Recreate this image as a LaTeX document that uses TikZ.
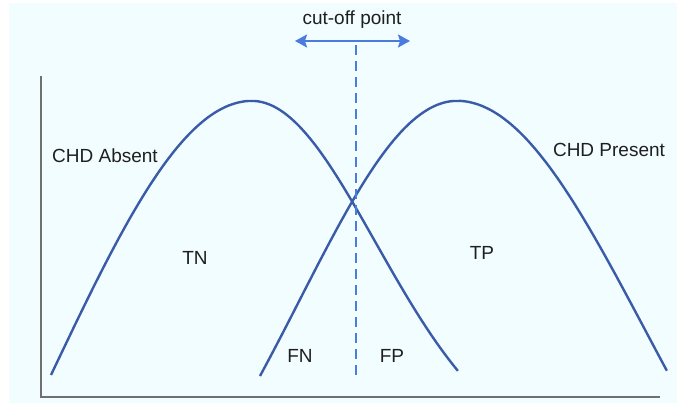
\documentclass[tikz,border=0pt]{standalone}
\usepackage{fontspec}
\setmainfont{Liberation Sans}
\usetikzlibrary{arrows.meta}

\definecolor{curveblue}{HTML}{3A5BA8}
\definecolor{cutblue}{HTML}{4A7BDD}
\definecolor{axisgray}{HTML}{707070}
\definecolor{bgcyan}{HTML}{F2FDFF}

\begin{document}
\begin{tikzpicture}[
  x=1pt, y=-1pt,
  >=Stealth,
  curve/.style={curveblue, line width=2.4pt, line join=round},
  axis/.style={axisgray, line width=1.8pt},
  cutline/.style={cutblue, line width=2pt, dash pattern=on 10pt off 6pt},
  cutarrow/.style={cutblue, line width=1.8pt, {Stealth[length=12pt, width=13pt, inset=2pt]}-{Stealth[length=12pt, width=13pt, inset=2pt]}},
  lbl/.style={anchor=base, inner sep=0pt, text=black!88, font=\fontsize{19}{23}\selectfont}
]

% --- Canvas ---
\useasboundingbox (0,0) rectangle (677,403);
\fill[bgcyan] (9,3) rectangle (677,403);

% --- Axes ---
\coordinate (ytop) at (41,76);
\coordinate (origin) at (41,397);
\coordinate (xend) at (660,397);
\draw[axis] (ytop) -- (origin) -- (xend);

% --- Curves (bell halves) ---
% CHD absent
\draw[curve] plot[domain=1:0, samples=60] ({252-201*\x}, {101+274*(1-exp(-\x*\x/2))/(1-exp(-1/2))})
  -- plot[domain=0:1, samples=60] ({252+206*\x}, {101+270*(1-exp(-\x*\x/0.72))/(1-exp(-1/0.72))});
% CHD present
\draw[curve] plot[domain=1:0, samples=60] ({457-197*\x}, {101+275*(1-exp(-\x*\x/1.28))/(1-exp(-1/1.28))})
  -- plot[domain=0:1, samples=60] ({457+210*\x}, {101+270*(1-exp(-\x*\x/1.62))/(1-exp(-1/1.62))});

% --- Cut-off ---
\coordinate (cuttop) at (356,45);
\coordinate (cutbot) at (356,381);
\draw[cutline] (cuttop) -- (cutbot);

\coordinate (arrL) at (295,41);
\coordinate (arrR) at (410,41);
\draw[cutarrow] (arrL) -- (arrR);

% --- Labels ---
\node[lbl] (cutoff) at (352,25) {cut-off point};
\node[lbl] (absent) at (105,163) {CHD Absent};
\node[lbl] (present) at (609,157) {CHD Present};
\node[lbl] (TN) at (195,265) {TN};
\node[lbl] (TP) at (482,260) {TP};
\node[lbl] (FN) at (300,362) {FN};
\node[lbl] (FP) at (392,362) {FP};

\end{tikzpicture}
\end{document}
